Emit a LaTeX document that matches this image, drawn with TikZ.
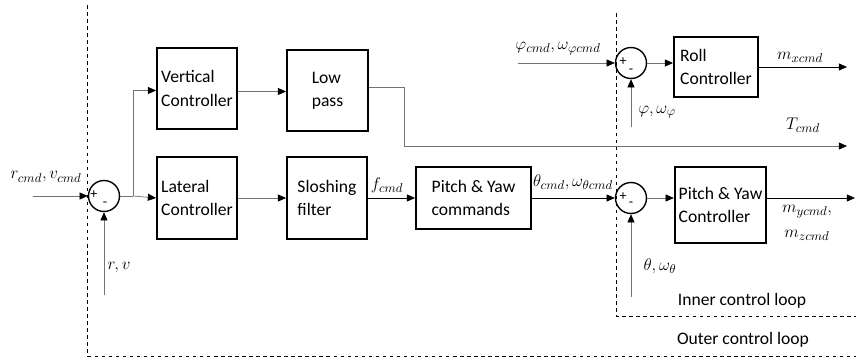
\documentclass[tikz,border=0pt]{standalone}
\usepackage[no-math]{fontspec}
\setmainfont{Carlito}
\usetikzlibrary{arrows.meta,positioning,calc}

\begin{document}
\begin{tikzpicture}[x=0.03cm, y=-0.03cm,
		blok/.style={rectangle, draw, line width=1.6pt, align=left, font=\fontsize{15}{20}\selectfont},
		sumnode/.style={circle, draw, line width=1.2pt, minimum size=0.93cm, inner sep=0pt},
		sig/.style={draw=black!55, line width=0.6pt, -{Triangle[length=7pt,width=6pt,color=black]}},
		wire/.style={draw=black!55, line width=0.6pt},
		lbl/.style={font=\fontsize{15}{20}\selectfont},
		sgn/.style={font=\large, inner sep=0pt},
		loopline/.style={dashed, line width=0.8pt},
		looptxt/.style={font=\fontsize{15}{20}\selectfont}]
	\useasboundingbox (0,0) rectangle (856,363);

	% outer loop
	\node[blok, minimum width=2.4cm, minimum height=2.43cm] (vert) at (197,88.5) {Vertical\\Controller};
	\node[blok, minimum width=2.43cm, minimum height=2.43cm] (lowpass) at (327.5,90.5) {Low\\pass};
	\node[blok, minimum width=2.4cm, minimum height=2.46cm] (lat) at (197,198) {Lateral\\Controller};
	\node[blok, minimum width=2.4cm, minimum height=2.46cm] (slosh) at (327,198) {Sloshing\\filter};
	\node[blok, minimum width=3.45cm, minimum height=1.86cm] (pycmd) at (473.5,198) {Pitch \& Yaw\\commands};

	\node[sumnode] (sum1) at (104,196) {};
	\node[sgn] (p1) at ($(sum1)+(-10,-1)$) {+};
	\node[sgn] (m1) at ($(sum1)+(1,8)$) {-};

	% inner loop
	\node[blok, minimum width=2.52cm, minimum height=1.8cm] (roll) at (716,67) {Roll\\Controller};
	\node[blok, minimum width=2.73cm, minimum height=2.28cm] (pyctrl) at (720.5,205) {Pitch \& Yaw\\Controller};

	\node[sumnode] (sum2) at (631,63) {};
	\node[sgn] (p2) at ($(sum2)+(-8,-1)$) {+};
	\node[sgn] (m2) at ($(sum2)+(0,8)$) {-};
	\node[sumnode] (sum3) at (631,198) {};
	\node[sgn] (p3) at ($(sum3)+(-8,-1)$) {+};
	\node[sgn] (m3) at ($(sum3)+(0,6)$) {-};

	% free ends
	\coordinate (rin) at (33,196);
	\coordinate (rfb) at (104,295);
	\coordinate (br) at (133,196);
	\coordinate (tc) at (847,146);
	\coordinate (phin) at (518,63);
	\coordinate (phfb) at (631,127);
	\coordinate (thfb) at (631,297);
	\coordinate (mx) at (847,67);
	\coordinate (myz) at (855,198);

	\draw[sig] (rin) -- (sum1.west);
	\draw[sig] (rfb) -- (sum1.south);
	\draw[wire] (sum1.east) -- (br);
	\draw[sig] (br) -- (lat.west);
	\draw[sig] (br) |- ($(vert.west)+(0,2)$);
	\draw[sig] ($(vert.east)+(0,3)$) -- ($(vert.east -| lowpass.west)+(0,3)$);
	\draw[sig] ($(lowpass.east)+(0,-3)$) -- ++(35,0) |- (tc);
	\draw[sig] (lat) -- (slosh);
	\draw[sig, draw=black] (slosh) -- (pycmd);
	\draw[sig, draw=black] (pycmd) -- (sum3);

	\draw[sig] (phin) -- (sum2.west);
	\draw[sig] (phfb) -- (sum2.south);
	\draw[sig] (sum2) -- (sum2 -| roll.west);
	\draw[sig, draw=black] (roll) -- (mx);
	\draw[sig] (thfb) -- (sum3.south);
	\draw[sig] (sum3) -- (sum3 -| pyctrl.west);
	\draw[sig, draw=black] (sum3 -| pyctrl.east) -- (myz);

	% labels
	\node[lbl] (lrcmd) at (46,177) {$r_{cmd}, v_{cmd}$};
	\node[lbl] (lrv) at (119,268) {$r, v$};
	\node[lbl] (lfcmd) at (387,185) {$f_{cmd}$};
	\node[lbl] (lthcmd) at (573,182) {$\theta_{cmd}, \omega_{\theta cmd}$};
	\node[lbl] (lphcmd) at (558,49) {$\varphi_{cmd}, \omega_{\varphi cmd}$};
	\node[lbl] (lphfb) at (657,112) {$\varphi, \omega_{\varphi}$};
	\node[lbl] (lthfb) at (660,266) {$\theta, \omega_{\theta}$};
	\node[lbl] (ltcmd) at (803,125) {$T_{cmd}$};
	\node[lbl] (lmx) at (800,57) {$m_{xcmd}$};
	\node[lbl] (lmy) at (807,212) {$m_{ycmd},$};
	\node[lbl] (lmz) at (807,235) {$m_{zcmd}$};

	% loop borders
	\draw[loopline] (87,5) -- (87,356) -- (856,356);
	\draw[loopline] (616,13) -- (616,316) -- (856,316);
	\node[looptxt] (inner) at (742,301) {Inner control loop};
	\node[looptxt] (outer) at (743,340) {Outer control loop};
\end{tikzpicture}
\end{document}
